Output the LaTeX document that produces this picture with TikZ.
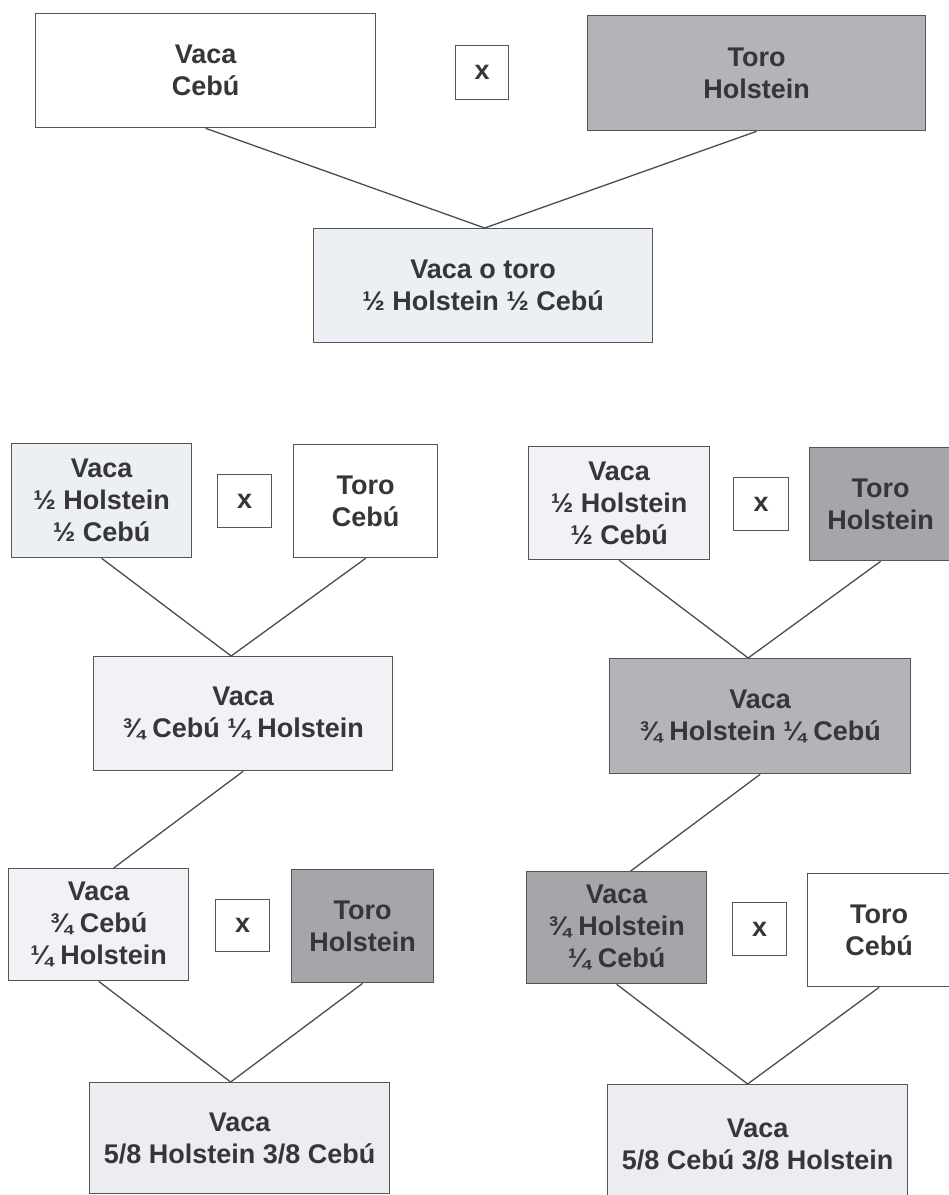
\documentclass[tikz,border=0pt]{standalone}
\usepackage{fontspec}
\setmainfont{Liberation Sans}
\definecolor{txt}{HTML}{363638}
\definecolor{edge}{HTML}{555558}
\definecolor{holA}{HTML}{B4B4B8}
\definecolor{holB}{HTML}{A6A6AA}
\definecolor{mixA}{HTML}{ECEFF3}
\definecolor{mixB}{HTML}{F1F2F5}
\definecolor{mixC}{HTML}{EDEDF1}
\begin{document}
\begin{tikzpicture}[x=1pt,y=-1pt,
  bx/.style={draw=edge, line width=1.3pt, anchor=north west, align=center, inner sep=0pt,
    text=txt, font=\fontsize{27}{32}\selectfont\bfseries},
  conn/.style={draw=edge!90!black, line width=1.3pt}]
\useasboundingbox (0,0) rectangle (949,1195);
% ---- top cross ----
\node[bx, fill=white, minimum width=340pt, minimum height=114pt] (vc) at (35,13) {Vaca\\Cebú};
\node[bx, fill=white, minimum width=53pt, minimum height=54pt] (x1) at (455,45) {x};
\node[bx, fill=holA, minimum width=338pt, minimum height=115pt] (th) at (587,15) {Toro\\Holstein};
\node[bx, fill=mixA, minimum width=339pt, minimum height=114pt] (h1) at (313,228) {Vaca o toro\\½ Holstein ½ Cebú};
\draw[conn] (vc.south) -- ([xshift=1.5pt]h1.north);
\draw[conn] (th.south) -- ([xshift=1.5pt]h1.north);
% ---- left middle ----
\node[bx, fill=mixA, minimum width=180pt, minimum height=114pt] (l1) at (11,443) {Vaca\\½ Holstein\\½ Cebú};
\node[bx, fill=white, minimum width=54pt, minimum height=53pt] (x2) at (217,474) {x};
\node[bx, fill=white, minimum width=144pt, minimum height=113pt] (l2) at (293,444) {Toro\\Cebú};
\node[bx, fill=mixB, minimum width=299pt, minimum height=114pt] (l3) at (93,656) {Vaca\\¾ Cebú ¼ Holstein};
\draw[conn] (l1.south) -- ([xshift=-12pt]l3.north);
\draw[conn] (l2.south) -- ([xshift=-12pt]l3.north);
% ---- left bottom ----
\node[bx, fill=mixB, minimum width=180pt, minimum height=112pt] (l4) at (8,868) {Vaca\\¾ Cebú\\¼ Holstein};
\node[bx, fill=white, minimum width=54pt, minimum height=52pt] (x3) at (215,899) {x};
\node[bx, fill=holB, minimum width=142pt, minimum height=113pt] (l5) at (291,869) {Toro\\Holstein};
\node[bx, fill=mixC, minimum width=300pt, minimum height=111pt] (l6) at (89,1082) {Vaca\\5/8 Holstein 3/8 Cebú};
\draw[conn] (l3.south) -- ([xshift=15pt]l4.north);
\draw[conn] (l4.south) -- ([xshift=-9pt]l6.north);
\draw[conn] (l5.south) -- ([xshift=-9pt]l6.north);
% ---- right middle ----
\node[bx, fill=mixB, minimum width=181pt, minimum height=113pt] (r1) at (528,446) {Vaca\\½ Holstein\\½ Cebú};
\node[bx, fill=white, minimum width=55pt, minimum height=53pt] (x4) at (733,477) {x};
\node[bx, fill=holB, minimum width=142pt, minimum height=113pt] (r2) at (809,447) {Toro\\Holstein};
\node[bx, fill=holA, minimum width=301pt, minimum height=115pt] (r3) at (609,658) {Vaca\\¾ Holstein ¼ Cebú};
\draw[conn] (r1.south) -- ([xshift=-12pt]r3.north);
\draw[conn] (r2.south) -- ([xshift=-12pt]r3.north);
% ---- right bottom ----
\node[bx, fill=holB, minimum width=180pt, minimum height=112pt] (r4) at (526,871) {Vaca\\¾ Holstein\\¼ Cebú};
\node[bx, fill=white, minimum width=54pt, minimum height=53pt] (x5) at (732,902) {x};
\node[bx, fill=white, minimum width=143pt, minimum height=113pt] (r5) at (807,873) {Toro\\Cebú};
\node[bx, fill=mixC, minimum width=300pt, minimum height=120pt] (r6) at (607,1084) {Vaca\\5/8 Cebú 3/8 Holstein};
\draw[conn] (r3.south) -- ([xshift=14pt]r4.north);
\draw[conn] (r4.south) -- ([xshift=-10pt]r6.north);
\draw[conn] (r5.south) -- ([xshift=-10pt]r6.north);
\end{tikzpicture}
\end{document}
